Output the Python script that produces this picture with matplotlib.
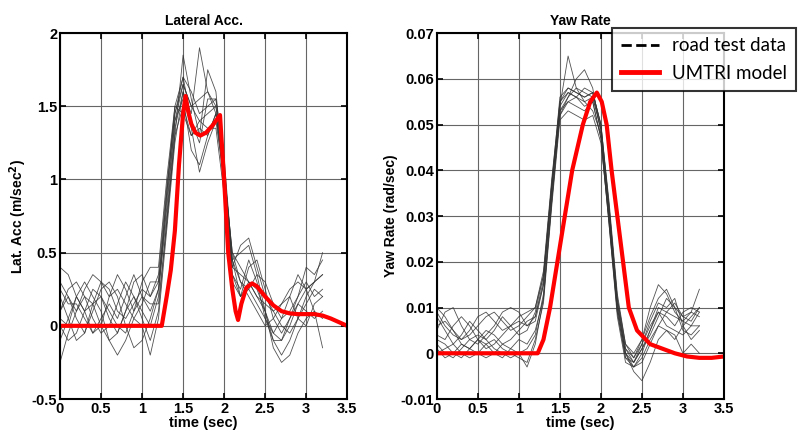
import matplotlib
matplotlib.use("Agg")
import matplotlib.pyplot as plt
from matplotlib.lines import Line2D
import numpy as np

plt.rcParams['font.family'] = ['Liberation Sans', 'DejaVu Sans']

# road test samples every 0.1 s from 0 to 3.2 s
t_test = np.round(np.arange(0, 3.21, 0.1), 2)

lat_runs = [
    [0.4, 0.35, 0.2, 0.1, 0.15, 0.3, 0.25, 0.1, 0.05, 0.15, 0.25, 0.2, 0.3, 0.9, 1.45, 1.65, 1.5, 1.4, 1.45, 1.5, 1.1, 0.4, 0.35, 0.3, 0.2, 0.1, -0.05, -0.1, 0.0, 0.15, 0.25, 0.3, 0.35],
    [0.1, 0.25, 0.3, 0.2, 0.05, -0.05, 0.0, 0.15, 0.3, 0.2, 0.05, -0.1, 0.1, 0.7, 1.3, 1.85, 1.55, 1.3, 1.75, 1.6, 1.0, 0.45, 0.5, 0.55, 0.35, 0.1, -0.1, -0.2, -0.1, 0.05, 0.2, 0.3, 0.5],
    [-0.25, -0.05, 0.1, 0.2, 0.15, 0.0, -0.1, -0.05, 0.1, 0.2, 0.1, 0.0, 0.2, 0.85, 1.4, 1.55, 1.2, 1.1, 1.3, 1.45, 1.05, 0.35, 0.2, 0.3, 0.25, 0.1, -0.15, -0.25, -0.2, -0.05, 0.05, 0.1, -0.15],
    [0.3, 0.2, 0.05, -0.05, 0.1, 0.25, 0.3, 0.2, 0.0, -0.15, -0.1, 0.05, 0.25, 0.75, 1.35, 1.6, 1.45, 1.9, 1.6, 1.5, 1.05, 0.5, 0.3, 0.25, 0.35, 0.3, 0.15, 0.05, 0.1, 0.2, 0.3, 0.2, 0.25],
    [0.0, -0.1, -0.05, 0.1, 0.25, 0.2, 0.05, -0.05, 0.1, 0.3, 0.35, 0.2, 0.35, 0.95, 1.45, 1.7, 1.4, 1.25, 1.55, 1.55, 1.15, 0.45, 0.2, 0.4, 0.45, 0.25, 0.05, -0.05, 0.05, 0.15, 0.1, 0.05, 0.1],
    [0.2, 0.05, -0.1, -0.05, 0.15, 0.2, 0.1, 0.0, -0.05, 0.1, 0.3, 0.4, 0.4, 1.0, 1.5, 1.45, 1.3, 1.35, 1.3, 1.45, 0.95, 0.4, 0.55, 0.6, 0.4, 0.2, 0.1, 0.15, 0.2, 0.05, 0.0, 0.15, 0.2],
    [-0.1, 0.05, 0.2, 0.3, 0.2, 0.1, -0.1, -0.2, -0.1, 0.05, 0.0, -0.2, 0.05, 0.65, 1.25, 1.6, 1.35, 1.05, 1.25, 1.4, 1.0, 0.3, 0.2, 0.25, 0.15, 0.05, -0.05, 0.05, 0.2, 0.35, 0.25, 0.1, 0.05],
    [0.1, 0.2, 0.1, 0.25, 0.35, 0.3, 0.2, 0.25, 0.15, 0.05, 0.15, 0.3, 0.3, 0.8, 1.4, 1.65, 1.5, 1.55, 1.6, 1.45, 1.05, 0.5, 0.4, 0.3, 0.2, 0.15, 0.1, 0.0, -0.05, 0.05, 0.15, 0.25, 0.2],
    [0.25, 0.15, 0.15, 0.05, -0.05, 0.0, 0.2, 0.35, 0.25, 0.1, 0.2, 0.15, 0.15, 0.7, 1.3, 1.5, 1.3, 1.4, 1.35, 1.35, 0.9, 0.35, 0.25, 0.45, 0.3, 0.05, -0.1, -0.1, 0.05, 0.2, 0.4, 0.35, 0.45],
    [0.05, 0.0, 0.2, 0.1, -0.05, 0.05, 0.15, 0.05, 0.2, 0.35, 0.2, 0.1, 0.25, 0.9, 1.5, 1.7, 1.6, 1.45, 1.5, 1.55, 1.1, 0.45, 0.3, 0.2, 0.1, 0.0, 0.05, 0.15, 0.25, 0.3, 0.25, 0.3, 0.35],
]

# yaw rate runs in 1/1000 rad/sec
yaw_runs = [
    [10, 8, 5, 3, 4, 6, 8, 9, 7, 5, 6, 8, 10, 18, 38, 55, 58, 57, 56, 57, 50, 32, 12, 2, 0, 3, 8, 12, 14, 10, 8, 9, 14],
    [5, 9, 10, 6, 3, 2, 4, 6, 9, 10, 9, 6, 8, 16, 36, 53, 56, 60, 62, 58, 48, 30, 10, 0, -3, -2, 2, 6, 9, 11, 8, 7, 10],
    [3, 2, 0, -1, 1, 3, 2, 0, -1, 1, 3, 2, 5, 12, 33, 52, 55, 54, 53, 55, 47, 28, 8, -2, -3, 0, 5, 9, 6, 5, 4, 6, 6],
    [8, 5, 2, 4, 7, 5, 3, 5, 8, 6, 4, 5, 9, 17, 37, 54, 65, 58, 57, 56, 49, 31, 11, 0, -4, -6, -2, 3, 5, 3, 6, 8, 10],
    [0, 1, 2, 0, -1, 0, 2, 3, 1, 0, -1, -2, 3, 11, 32, 51, 53, 52, 51, 52, 46, 29, 9, -1, -2, 1, 4, 8, 12, 10, 5, 4, 6],
    [6, 7, 5, 2, 1, 3, 5, 4, 2, 3, 5, 7, 8, 15, 35, 55, 57, 56, 58, 57, 50, 33, 13, 2, -1, 3, 10, 15, 13, 9, 7, 9, 8],
    [2, 0, -1, 1, 3, 4, 3, 1, 0, -1, 0, 1, 4, 13, 34, 52, 56, 58, 55, 53, 48, 29, 10, 0, -2, 2, 7, 11, 10, 12, 6, 3, 5],
    [4, 3, 6, 8, 6, 3, 1, 2, 4, 6, 7, 6, 7, 15, 36, 54, 57, 56, 55, 56, 49, 31, 11, 1, -1, 2, 6, 9, 8, 6, 9, 10, 9],
    [1, -1, 0, 2, 1, 0, -1, 0, 2, 1, 0, -3, 2, 12, 33, 53, 55, 56, 54, 55, 47, 28, 9, -1, -3, -1, 3, 6, 5, 4, 0, 2, 0],
    [9, 6, 4, 3, 5, 8, 9, 7, 5, 6, 8, 9, 10, 17, 37, 56, 58, 57, 56, 57, 50, 32, 12, 1, -2, 1, 5, 10, 9, 8, 7, 6, 9],
]

# UMTRI model
t_lat_model = [0, 1.24, 1.30, 1.35, 1.40, 1.45, 1.50, 1.53, 1.56, 1.60, 1.65, 1.71, 1.78, 1.86, 1.95, 2.00, 2.05, 2.10, 2.14, 2.17, 2.21, 2.27, 2.34, 2.40, 2.50, 2.60, 2.70, 2.80, 2.90, 3.00, 3.10, 3.20, 3.30, 3.40, 3.50]
lat_model = [0, 0, 0.2, 0.38, 0.65, 1.1, 1.45, 1.57, 1.47, 1.38, 1.32, 1.30, 1.32, 1.37, 1.44, 1.0, 0.5, 0.25, 0.1, 0.04, 0.15, 0.26, 0.29, 0.27, 0.2, 0.14, 0.1, 0.085, 0.08, 0.08, 0.08, 0.07, 0.05, 0.025, 0.0]

t_yaw_model = [0, 1.23, 1.30, 1.38, 1.47, 1.56, 1.65, 1.78, 1.87, 1.95, 2.01, 2.07, 2.13, 2.20, 2.27, 2.34, 2.44, 2.60, 2.75, 2.90, 3.05, 3.20, 3.35, 3.50]
yaw_model = [0, 0, 0.003, 0.01, 0.02, 0.03, 0.04, 0.05, 0.055, 0.057, 0.055, 0.05, 0.04, 0.03, 0.02, 0.01, 0.005, 0.002, 0.001, 0.0, -0.0007, -0.001, -0.001, -0.0007]

lat_ticks = [-0.5, 0, 0.5, 1, 1.5, 2]
yaw_ticks = [-0.01, 0, 0.01, 0.02, 0.03, 0.04, 0.05, 0.06, 0.07]
x_ticks = [0, 0.5, 1, 1.5, 2, 2.5, 3, 3.5]


def style(ax, yt, ylabel, title):
    ax.set_xlim(0, 3.5)
    ax.set_ylim(yt[0], yt[-1])
    ax.set_xticks(x_ticks)
    ax.set_xticklabels(['%g' % v for v in x_ticks])
    ax.set_yticks(yt)
    ax.set_yticklabels(['%g' % v for v in yt])
    ax.grid(True, color='0.4', lw=0.8)
    ax.tick_params(direction='in', top=True, right=True, length=4, width=1.2,
                   labelsize=10.5, pad=2)
    for lab in ax.get_xticklabels() + ax.get_yticklabels():
        lab.set_fontweight('bold')
    for sp in ax.spines.values():
        sp.set_linewidth(1.5)
    ax.set_xlabel('time (sec)', fontsize=10.5, fontweight='bold', labelpad=0)
    ax.set_ylabel(ylabel, fontsize=10, fontweight='bold', labelpad=2)
    ax.set_title(title, fontsize=10, fontweight='bold', pad=6)


fig = plt.figure(figsize=(8, 4.33), dpi=100)
ax1 = fig.add_axes([0.075, 0.0785, 0.359, 0.845])
ax2 = fig.add_axes([0.546, 0.0785, 0.359, 0.845])

for run in lat_runs:
    ax1.plot(t_test, run, color='0.2', lw=0.6, alpha=0.85)
ax1.plot(t_lat_model, lat_model, color='#ff0000', lw=3, solid_joinstyle='round')
style(ax1, lat_ticks, 'Lat. Acc (m/sec$^\\mathbf{2}$)', 'Lateral Acc.')

for run in yaw_runs:
    ax2.plot(t_test, np.array(run) / 1000.0, color='0.2', lw=0.6, alpha=0.85)
ax2.plot(t_yaw_model, yaw_model, color='#ff0000', lw=3, solid_joinstyle='round')
style(ax2, yaw_ticks, 'Yaw Rate (rad/sec)', 'Yaw Rate')

handles = [Line2D([], [], color='black', ls='--', lw=2),
           Line2D([], [], color='#ff0000', lw=3.5)]
leg = fig.legend(handles, ['road test data', 'UMTRI model'],
                 loc='upper left', bbox_to_anchor=(612 / 800, 1 - 28 / 433),
                 prop={'family': 'Lato', 'size': 13.5}, frameon=True,
                 fancybox=False, handlelength=2.0, borderpad=0.5,
                 labelspacing=0.55, handletextpad=0.7, borderaxespad=0)
leg.get_frame().set_edgecolor('black')
leg.get_frame().set_linewidth(1.5)

fig.savefig('out.png', dpi=100)
